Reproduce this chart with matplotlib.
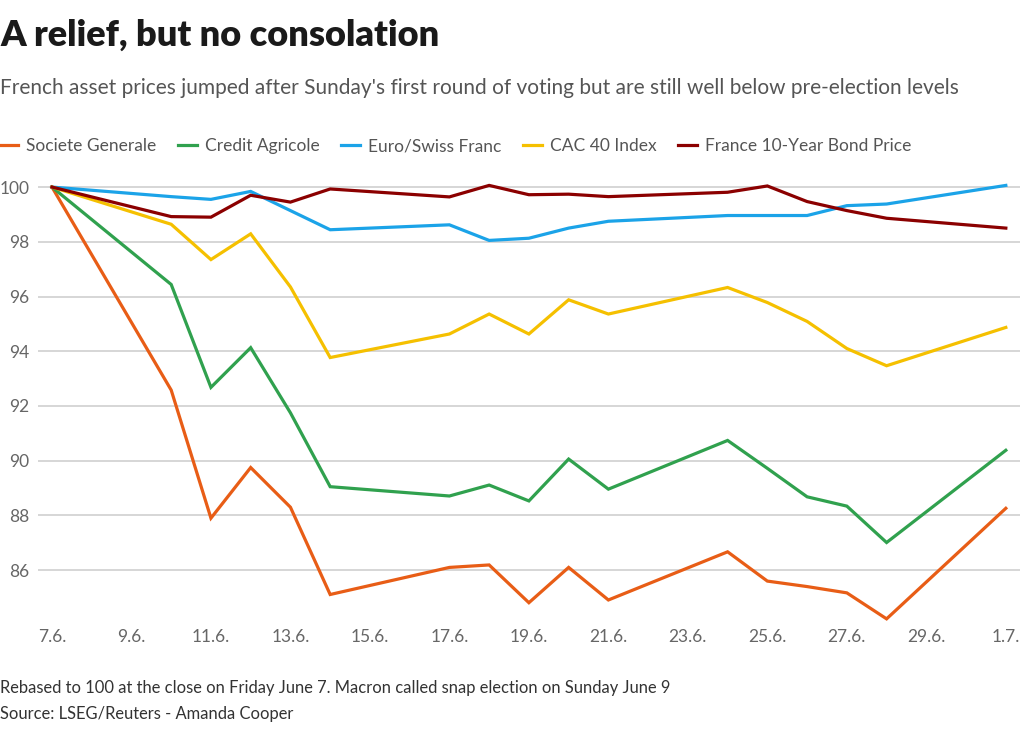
import matplotlib
matplotlib.use("Agg")
import matplotlib.pyplot as plt
import pandas as pd

plt.rcParams['font.family'] = ['Lato', 'DejaVu Sans']

dates = ["2024-06-07", "2024-06-10", "2024-06-11", "2024-06-12", "2024-06-13",
         "2024-06-14", "2024-06-17", "2024-06-18", "2024-06-19", "2024-06-20",
         "2024-06-21", "2024-06-24", "2024-06-25", "2024-06-26", "2024-06-27",
         "2024-06-28", "2024-07-01"]

socgen = [100, 92.58, 87.90, 89.75, 88.30, 85.11, 86.10, 86.19, 84.81, 86.10,
          84.91, 86.67, 85.60, 85.40, 85.17, 84.22, 88.26]
credit_agricole = [100, 96.44, 92.68, 94.13, 91.75, 89.05, 88.71, 89.11, 88.53, 90.06,
                   88.96, 90.74, 89.72, 88.68, 88.34, 87.01, 90.38]
eur_chf = [100, 99.65, 99.55, 99.84, 99.14, 98.44, 98.62, 98.05, 98.13, 98.50,
           98.75, 98.96, 98.96, 98.96, 99.32, 99.38, 100.06]
cac40 = [100, 98.64, 97.35, 98.29, 96.35, 93.77, 94.63, 95.36, 94.63, 95.88,
         95.36, 96.33, 95.78, 95.09, 94.10, 93.47, 94.87]
oat_price = [100, 98.92, 98.90, 99.70, 99.45, 99.93, 99.64, 100.06, 99.72, 99.74,
             99.65, 99.81, 100.04, 99.47, 99.14, 98.86, 98.50]

series = [
    ("Societe Generale", socgen, "#e85d16"),
    ("Credit Agricole", credit_agricole, "#30a14e"),
    ("Euro/Swiss Franc", eur_chf, "#1ba3e8"),
    ("CAC 40 Index", cac40, "#f5c000"),
    ("France 10-Year Bond Price", oat_price, "#8b0000"),
]

tick_dates = ["2024-06-07", "2024-06-09", "2024-06-11", "2024-06-13", "2024-06-15",
              "2024-06-17", "2024-06-19", "2024-06-21", "2024-06-23", "2024-06-25",
              "2024-06-27", "2024-06-29", "2024-07-01"]
tick_labels = ["7.6.", "9.6.", "11.6.", "13.6.", "15.6.", "17.6.", "19.6.",
               "21.6.", "23.6.", "25.6.", "27.6.", "29.6.", "1.7."]
y_ticks = [86, 88, 90, 92, 94, 96, 98, 100]

x = pd.to_datetime(dates)
fig = plt.figure(figsize=(10.24, 7.3), dpi=100)
ax = fig.add_axes([0.037, 0.144, 0.959, 0.611])

for name, vals, col in series:
    ax.plot(x, vals, color=col, lw=2.3, label=name, solid_joinstyle='miter')

ax.set_xlim(x[0] - pd.Timedelta(hours=8.5), x[-1] + pd.Timedelta(hours=8.5))
ax.set_ylim(84, 100.3)
ax.set_yticks(y_ticks)
ax.set_yticklabels([str(v) for v in y_ticks])
ax.set_xticks(pd.to_datetime(tick_dates))
ax.set_xticklabels(tick_labels)
ax.grid(axis='y', color='#cccccc', lw=1.1)
ax.set_axisbelow(True)
for s in ax.spines.values():
    s.set_visible(False)
ax.tick_params(axis='both', length=0, labelsize=12.5, colors='#666666')
ax.tick_params(axis='y', pad=6)
ax.tick_params(axis='x', pad=3)

fig.text(0.0, 0.952, "A relief, but no consolation", fontsize=26, fontweight='heavy',
         color='#1a1a1a', va='center')
fig.text(0.0, 0.88, "French asset prices jumped after Sunday's first round of voting but are still well below pre-election levels",
         fontsize=15.0, color='#555555', va='center')

leg = fig.legend(loc='center left', bbox_to_anchor=(-0.008, 0.8), ncol=5, frameon=False,
                 fontsize=12.5, handlelength=1.1, handletextpad=0.45, columnspacing=1.25,
                 borderaxespad=0)
for t in leg.get_texts():
    t.set_color('#555555')

fig.text(0.0, 0.057, "Rebased to 100 at the close on Friday June 7. Macron called snap election on Sunday June 9",
         fontsize=11.9, color='#333333', va='center')
fig.text(0.0, 0.022, "Source: LSEG/Reuters - Amanda Cooper", fontsize=11.9, color='#333333', va='center')

fig.savefig("out.png", dpi=100)
